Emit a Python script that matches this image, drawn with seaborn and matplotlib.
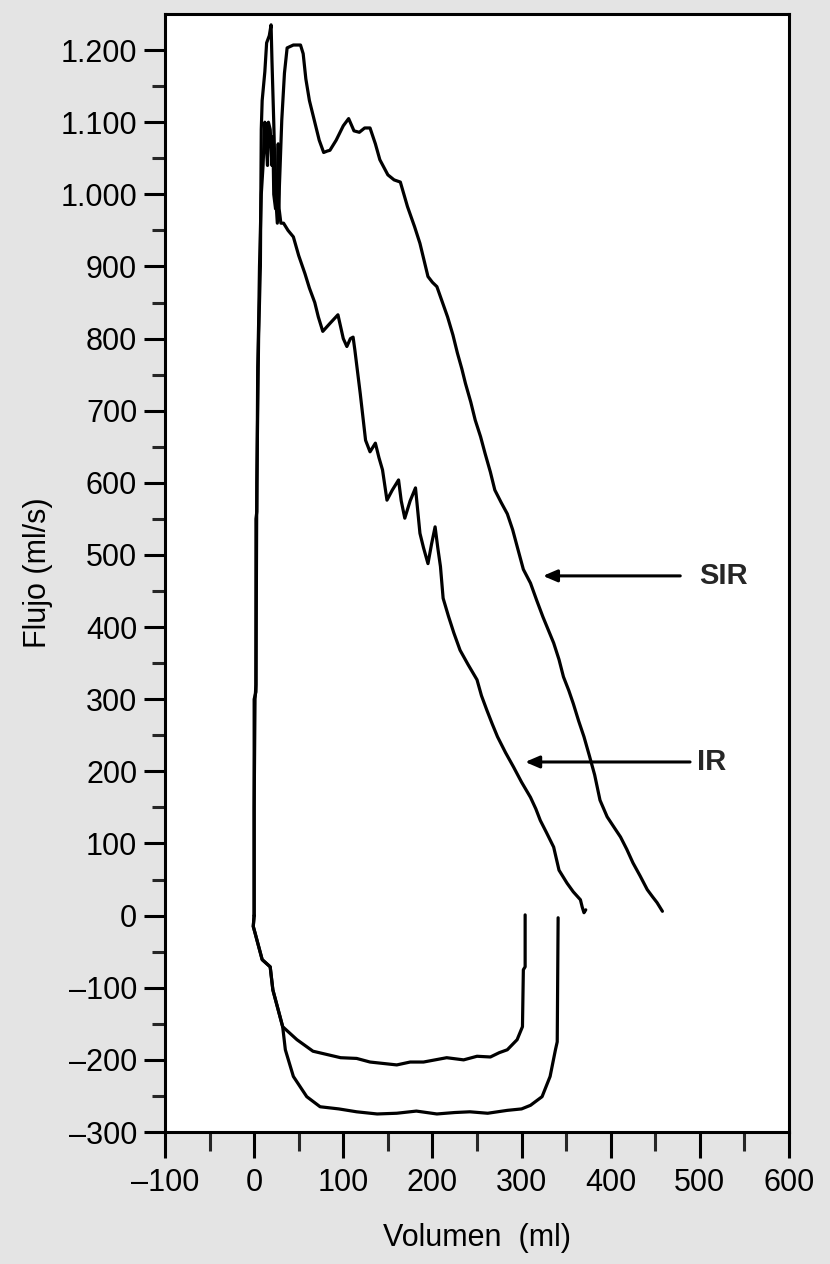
import numpy as np
import pandas as pd
import matplotlib
matplotlib.use("Agg")
import matplotlib.pyplot as plt
from matplotlib.ticker import FixedLocator, FuncFormatter
import seaborn as sns

# Curva SIR: rama espiratoria (volumen ml, flujo ml/s)
sir_esp_vol = [0, 0, 2, 3, 5, 7, 8, 9, 12, 14, 17, 19, 20, 22, 24, 26, 28, 29, 31, 34, 37,
               44, 52, 55, 58, 62, 68, 73, 78, 82, 85, 92, 100, 106, 112, 118, 124, 130,
               136, 141, 150, 157, 164, 168, 172, 180, 186, 195, 200, 205, 211, 217, 223,
               228, 233, 237, 243, 248, 254, 259, 265, 270, 277, 284, 290, 295, 302, 310,
               317, 324, 330, 336, 342, 347, 353, 358, 364, 370, 376, 382, 388, 396, 404,
               411, 418, 425, 433, 441, 447, 452, 456, 458]
sir_esp_flujo = [0, 300, 310, 600, 800, 900, 1090, 1130, 1170, 1210, 1220, 1235, 1185, 1100,
                 1000, 960, 1000, 1034, 1103, 1168, 1203, 1207, 1207, 1195, 1160, 1130,
                 1100, 1075, 1058, 1060, 1061, 1075, 1095, 1105, 1088, 1086, 1092, 1092,
                 1070, 1048, 1027, 1020, 1017, 1000, 983, 955, 932, 886, 878, 872, 851, 830,
                 805, 780, 758, 738, 712, 687, 664, 641, 615, 590, 573, 557, 535, 512, 480,
                 461, 437, 414, 396, 378, 355, 331, 312, 294, 270, 248, 222, 195, 160, 137,
                 122, 109, 92, 73, 55, 36, 26, 18, 10, 6]

# Curva IR: rama espiratoria
ir_esp_vol = [0, 0, 1, 2, 2, 3, 4, 5, 6, 8, 10, 12, 14, 15, 16, 18, 20, 21, 22, 24, 26, 27,
              28, 30, 33, 38, 44, 50, 57, 62, 68, 72, 77, 85, 94, 100, 104, 108, 111, 113,
              119, 125, 130, 136, 140, 144, 149, 155, 162, 165, 169, 175, 181, 186, 190,
              195, 199, 203, 206, 209, 212, 218, 224, 231, 240, 250, 255, 261, 267, 273,
              282, 291, 300, 310, 316, 321, 328, 336, 342, 351, 358, 366, 368, 370, 372]
ir_esp_flujo = [0, 150, 300, 320, 550, 560, 760, 820, 900, 1000, 1040, 1100, 1060, 1040,
                1100, 1090, 1040, 1080, 1000, 980, 1010, 1070, 980, 960, 960, 950, 941, 915,
                890, 870, 850, 830, 810, 821, 833, 800, 789, 800, 802, 784, 724, 659, 643,
                655, 635, 618, 576, 590, 604, 575, 551, 575, 593, 530, 510, 488, 515, 539,
                510, 484, 440, 415, 392, 368, 348, 327, 305, 285, 266, 248, 226, 206, 185,
                164, 148, 132, 115, 95, 63, 45, 33, 22, 12, 4, 8]

# Ramas inspiratorias
sir_ins_vol = [0, -1, 1, 9, 18, 21, 29, 32, 35, 44, 59, 74, 95, 115, 138, 160, 182, 205,
               225, 242, 262, 284, 300, 310, 323, 332, 338, 340, 341]
sir_ins_flujo = [0, -15, -24, -61, -71, -103, -140, -154, -186, -223, -251, -265, -268,
                 -272, -275, -274, -271, -275, -273, -272, -274, -270, -268, -263, -251,
                 -223, -186, -175, -3]
ir_ins_vol = [0, -1, 1, 9, 18, 21, 29, 32, 48, 66, 97, 115, 130, 160, 175, 190, 216, 235,
              250, 265, 275, 284, 295, 301, 302, 304, 304]
ir_ins_flujo = [0, -15, -24, -61, -71, -103, -140, -154, -172, -188, -197, -198, -203,
                -207, -203, -203, -197, -200, -195, -196, -190, -186, -172, -154, -75,
                -71, 1]

curvas = {
    "SIR espiración": (sir_esp_vol, sir_esp_flujo),
    "IR espiración": (ir_esp_vol, ir_esp_flujo),
    "SIR inspiración": (sir_ins_vol, sir_ins_flujo),
    "IR inspiración": (ir_ins_vol, ir_ins_flujo),
}
df = pd.concat(
    [pd.DataFrame({"volumen": v, "flujo": f, "curva": k}) for k, (v, f) in curvas.items()],
    ignore_index=True,
)

sns.set_theme(style="ticks")
plt.rcParams["font.family"] = ["Liberation Sans", "DejaVu Sans"]
bg = "#e4e4e4"

fig = plt.figure(figsize=(8.3, 12.64), dpi=100, facecolor=bg)
ax = fig.add_axes([165 / 830, 1 - 1132 / 1264, 624 / 830, 1118 / 1264])
ax.set_facecolor("white")

sns.lineplot(data=df, x="volumen", y="flujo", units="curva", estimator=None, sort=False,
             color="black", linewidth=2.3, ax=ax)

ax.set_xlim(-100, 600)
ax.set_ylim(-300, 1250)
ax.xaxis.set_major_locator(FixedLocator(np.arange(-100, 601, 100)))
ax.xaxis.set_minor_locator(FixedLocator(np.arange(-50, 551, 100)))
ax.yaxis.set_major_locator(FixedLocator(np.arange(-300, 1201, 100)))
ax.yaxis.set_minor_locator(FixedLocator(np.arange(-250, 1151, 100)))


def fmt(v, pos):
    s = f"{abs(int(v)):,}".replace(",", ".")
    return ("\u2013" + s) if v < 0 else s


ax.xaxis.set_major_formatter(FuncFormatter(fmt))
ax.yaxis.set_major_formatter(FuncFormatter(fmt))

for s in ax.spines.values():
    s.set_linewidth(2.2)
    s.set_color("black")
ax.tick_params(axis="y", which="major", direction="out", length=15, width=2.2,
               labelsize=22, pad=5, colors="black")
ax.tick_params(axis="y", which="minor", direction="out", length=9.5, width=2.2)
ax.tick_params(axis="x", which="major", direction="out", length=19, width=2.2,
               labelsize=22, pad=7, colors="black")
ax.tick_params(axis="x", which="minor", direction="out", length=13.5, width=2.2)

ax.set_xlabel("Volumen  (ml)", fontsize=22, color="black")
ax.set_ylabel("Flujo (ml/s)", fontsize=22, color="black")
ax.xaxis.set_label_coords(0.5, -0.081)
ax.yaxis.set_label_coords(-0.18, 0.5)

flecha = dict(arrowstyle="-|>,head_length=0.7,head_width=0.3", color="black", lw=2.2,
              shrinkA=0, shrinkB=0)
ax.annotate("", xy=(324, 471), xytext=(478, 471), arrowprops=flecha)
ax.text(499, 471, "SIR", fontsize=21, fontweight="bold", va="center", ha="left")
ax.annotate("", xy=(304, 213), xytext=(489, 213), arrowprops=flecha)
ax.text(497, 213, "IR", fontsize=21, fontweight="bold", va="center", ha="left")

fig.savefig("out.png", dpi=100, facecolor=bg)
